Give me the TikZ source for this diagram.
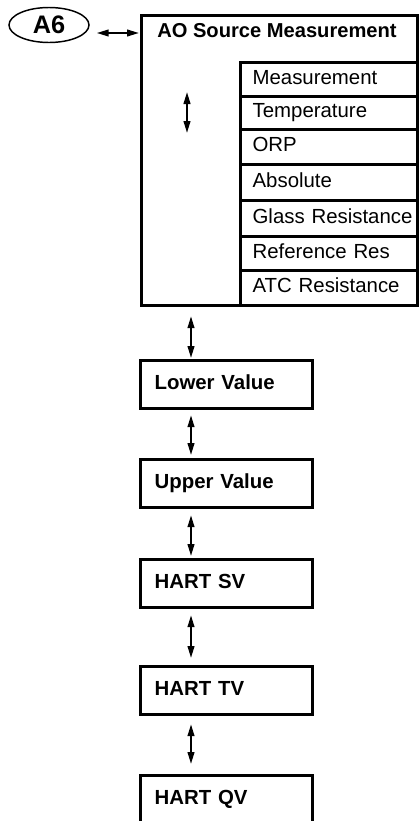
\documentclass[tikz,border=0pt]{standalone}
\usepackage{fontspec}
\setmainfont{Liberation Sans}
\usetikzlibrary{shapes.geometric,arrows.meta}
\def\pxu{0.75pt}
\begin{document}
\begin{tikzpicture}[x=0.75pt,y=-0.75pt,
  every node/.style={font=\fontsize{15.3pt}{18pt}\selectfont},
  frame/.style={draw,line width=2.4pt,rectangle,anchor=north west,inner sep=0pt},
  rowbox/.style={draw,line width=2.4pt,rectangle,anchor=north west,minimum width=177*\pxu,
     text width=153*\pxu,inner xsep=12*\pxu,inner ysep=0pt,align=left,text height=0.72em,text depth=0pt},
  valbox/.style={draw,line width=2.4pt,rectangle,anchor=north west,minimum width=172*\pxu,minimum height=48*\pxu,
     text width=144*\pxu,inner xsep=14*\pxu,inner ysep=0pt,align=left,text height=0.72em,text depth=0pt,font=\fontsize{15.3pt}{18pt}\selectfont\bfseries},
  arr/.style={line width=1.5pt,{Triangle[length=9pt,width=5pt]}-{Triangle[length=9pt,width=5pt]}}
]
\useasboundingbox (0,0) rectangle (418,821);
% A6 ellipse
\node[ellipse,draw,line width=1.1pt,minimum width=80*\pxu,minimum height=35*\pxu,inner sep=0pt,
  font=\fontsize{19pt}{22pt}\selectfont\bfseries] (a6) at (49,25) {A6};
% big box
\node[frame,minimum width=276*\pxu,minimum height=290*\pxu] (big) at (140,14) {};
\node[anchor=west,inner sep=0pt,text height=0.72em,text depth=0pt,font=\fontsize{15.1pt}{18pt}\selectfont\bfseries] (title) at (157,33) {AO Source Measurement};
% rows
\node[rowbox,minimum height=34*\pxu] (r1) at (239,61) {Measurement};
\node[rowbox,minimum height=33*\pxu] (r2) at (239,95) {Temperature};
\node[rowbox,minimum height=35*\pxu] (r3) at (239,128) {ORP};
\node[rowbox,minimum height=36*\pxu] (r4) at (239,163) {Absolute};
\node[rowbox,minimum height=36*\pxu] (r5) at (239,199) {\mbox{Glass Resistance}};
\node[rowbox,minimum height=34*\pxu] (r6) at (239,235) {Reference Res};
\node[rowbox,minimum height=35*\pxu] (r7) at (239,269) {ATC Resistance};
% lower boxes
\node[valbox] (lv) at (139,359) {Lower Value};
\node[valbox] (uv) at (139,458) {Upper Value};
\node[valbox] (sv) at (139,558) {HART SV};
\node[valbox] (tv) at (139,665) {HART TV};
\node[valbox] (qv) at (139,774) {HART QV};
% arrows
\draw[arr,shorten <=7*\pxu,shorten >=1*\pxu] (title.west -| a6.east) -- (title.west -| big.west);
\coordinate (ia1) at (187,92);
\coordinate (ia2) at (187,133);
\draw[arr] (ia1) -- (ia2);
\coordinate (ax) at (191,0);
\draw[arr,shorten <=9*\pxu,shorten >=1*\pxu] (big.south -| ax) -- (lv.north -| ax);
\draw[arr,shorten <=5*\pxu,shorten >=3*\pxu] (lv.south -| ax) -- (uv.north -| ax);
\draw[arr,shorten <=6*\pxu,shorten >=2*\pxu] (uv.south -| ax) -- (sv.north -| ax);
\draw[arr,shorten <=6*\pxu,shorten >=7*\pxu] (sv.south -| ax) -- (tv.north -| ax);
\draw[arr,shorten <=8*\pxu,shorten >=10*\pxu] (tv.south -| ax) -- (qv.north -| ax);
\end{tikzpicture}
\end{document}
